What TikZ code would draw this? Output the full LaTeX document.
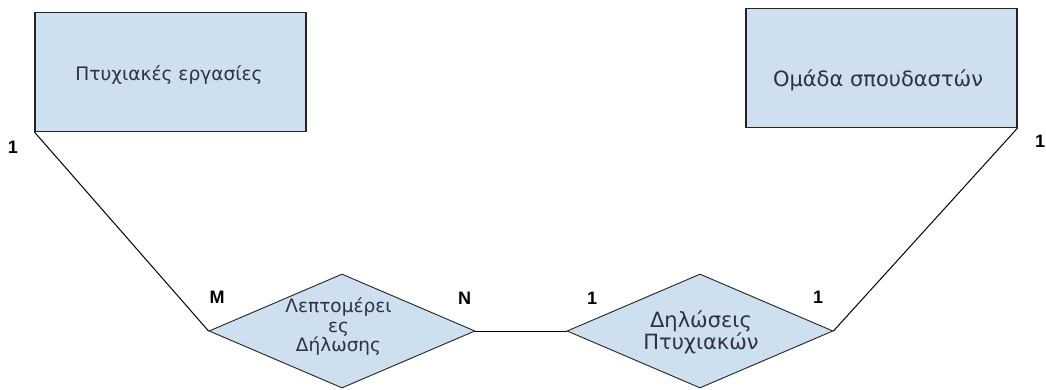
\documentclass[tikz,border=0pt]{standalone}
\usepackage{fontspec}
\setmainfont{Liberation Sans}
\newfontfamily\labelfont{DejaVu Sans}
\usetikzlibrary{shapes.geometric}
\definecolor{boxfill}{RGB}{206,223,240}
\definecolor{boxline}{RGB}{35,35,35}
\definecolor{txt}{RGB}{45,50,60}
\tikzset{
  entity/.style={draw=boxline, line width=1.1pt, fill=boxfill, rectangle, inner sep=0pt,
     minimum width=271pt, minimum height=119pt},
  relation/.style={draw=boxline, line width=0.9pt, fill=boxfill, diamond, inner sep=0pt,
     minimum width=266pt, minimum height=114pt},
  etext/.style={text=txt, inner sep=0pt, align=center},
  link/.style={draw=black, line width=1pt},
  card/.style={font=\bfseries\fontsize{18}{20}\selectfont, text=black, inner sep=0pt}
}
\begin{document}
\begin{tikzpicture}[x=1pt,y=-1pt]
\useasboundingbox (0,0) rectangle (1046,389);
\node[entity] (pe) at (170.5,72) {};
\node[entity] (os) at (881.5,68) {};
\node[relation] (ld) at (342,331) {};
\node[relation] (dp) at (700,331) {};
\node[etext, font=\labelfont\fontsize{18.6}{20}\selectfont] (pet) at (169,75) {Πτυχιακές εργασίες};
\node[etext, font=\labelfont\fontsize{21}{24}\selectfont] (ost) at (878,80) {Ομάδα σπουδαστών};
\node[etext, font=\labelfont\fontsize{18.5}{19.5}\selectfont] (ldt) at (338.5,327) {Λεπτομέρει\\ες\\Δήλωσης};
\node[etext, font=\labelfont\fontsize{21}{22}\selectfont] (dpt) at (701,332) {Δηλώσεις\\Πτυχιακών};
\draw[link] (pe.south west) -- (ld.west);
\draw[link] (ld.east) -- (dp.west);
\draw[link] (os.south east) -- (dp.east);
\node[card] (c1) at (13,147) {1};
\node[card] (c2) at (1040,141) {1};
\node[card] (cm) at (217,297) {M};
\node[card] (cn) at (464.5,298) {N};
\node[card] (c3) at (592,298) {1};
\node[card] (c4) at (818,297) {1};
\end{tikzpicture}
\end{document}
